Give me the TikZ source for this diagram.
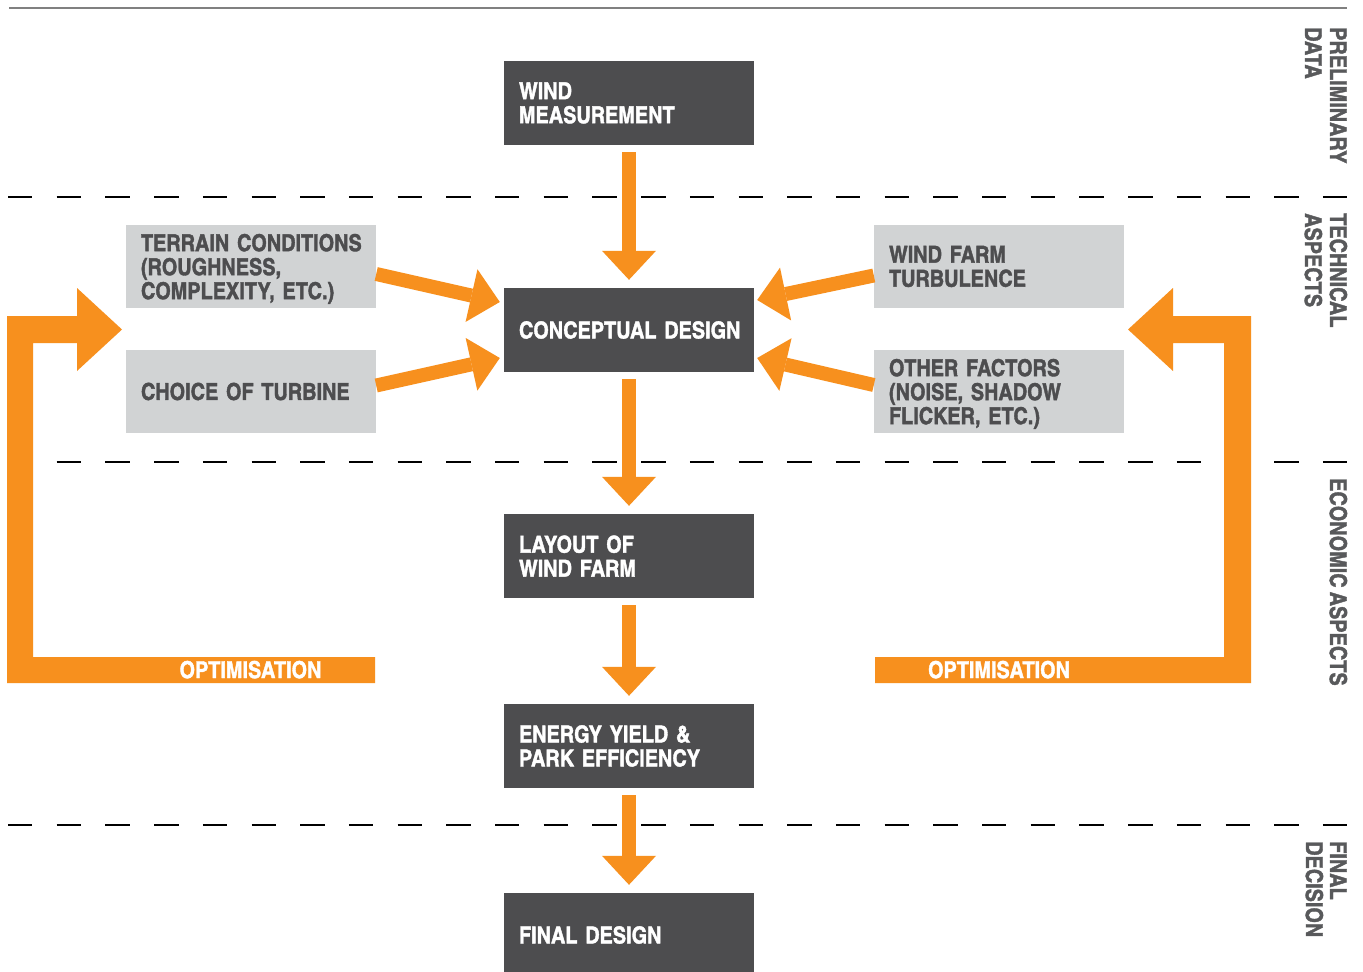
\documentclass[tikz,border=0pt]{standalone}
\usepackage{fontspec}
\newfontfamily\cnfont{texgyreheroscn-bold.otf}[FakeStretch=1.04,FakeBold=1.6,WordSpace=0.75]
\usetikzlibrary{arrows.meta}
\definecolor{dbox}{HTML}{4D4D4F}
\definecolor{lbox}{HTML}{D1D3D4}
\definecolor{orng}{HTML}{F7901E}
\definecolor{ltxt}{HTML}{4D4D4F}
\definecolor{sidetxt}{HTML}{58595B}
\definecolor{toplinecol}{HTML}{808080}
\hyphenpenalty=10000
\exhyphenpenalty=10000
\begin{document}
\begin{tikzpicture}[x=1pt,y=-1pt,
 boxfont/.style={font={\cnfont\fontsize{23.3}{24}\selectfont}},
 darkbox/.style={boxfont, fill=dbox, text=white, minimum height=84pt, text width=220pt, align=left, inner xsep=15pt, inner ysep=0pt},
 lightbox/.style={darkbox, fill=lbox, text=ltxt, minimum height=83pt},
 oarrow/.style={draw=orng, line width=14pt, -{Triangle[width=54pt,length=29pt,line width=0pt]}},
 sectline/.style={line width=2.2pt, black, dash pattern=on 24.4pt off 24.3pt},
 sidelabel/.style={boxfont, text=sidetxt, rotate=-90, anchor=base west, inner sep=0pt},
 optlabel/.style={boxfont, text=white, anchor=base, inner sep=0pt},
]
\useasboundingbox (0,0) rectangle (1363,972);
\fill[white] (0,0) rectangle (1363,972);

% top rule and section separators
\draw[toplinecol, line width=1.6pt] (9,8) -- (1347,8);
\draw[sectline] (8,197) -- (1347,197);
\draw[sectline] (8,462) -- (1347,462);
\draw[sectline] (8,825) -- (1347,825);

% side labels
\node[sidelabel] (l1a) at (1330,27) {PRELIMINARY};
\node[sidelabel] (l1b) at (1305,27) {DATA};
\node[sidelabel] (l2a) at (1330,213) {TECHNICAL};
\node[sidelabel] (l2b) at (1305,213) {ASPECTS};
\node[sidelabel] (l3a) at (1330,478) {ECONOMIC ASPECTS};
\node[sidelabel] (l4a) at (1330,841) {FINAL};
\node[sidelabel] (l4b) at (1306,841) {DECISION};

% main boxes
\node[darkbox] (wm) at (629,103) {WIND\\MEASUREMENT};
\node[darkbox] (cd) at (629,330) {CONCEPTUAL~DESIGN};
\node[darkbox] (lw) at (629,556) {LAYOUT~OF\\WIND~FARM};
\node[darkbox] (ey) at (629,746) {ENERGY~YIELD~\&\\PARK~EFFICIENCY};
\node[darkbox] (fd) at (629,935) {FINAL~DESIGN};

\node[lightbox] (tc) at (251,266.5) {TERRAIN~CONDITIONS\\(ROUGHNESS,\\\smash{COMPLEXITY,~ETC.)}};
\node[lightbox] (ct) at (251,391.5) {CHOICE~OF~TURBINE};
\node[lightbox] (wt) at (999,266.5) {WIND~FARM\\TURBULENCE};
\node[lightbox] (of) at (999,391.5) {OTHER~FACTORS\\(NOISE,~SHADOW\\\smash{FLICKER,~ETC.)}};

% vertical flow arrows
\draw[oarrow, shorten <=7pt, shorten >=8pt] (wm) -- (cd);
\draw[oarrow, shorten <=7pt, shorten >=8pt] (cd) -- (lw);
\draw[oarrow, shorten <=7pt, shorten >=8pt] (lw) -- (ey);
\draw[oarrow, shorten <=7pt, shorten >=8pt] (ey) -- (fd);

% side input arrows
\draw[oarrow] ([shift={(0,7.5)}]tc.east) -- ([shift={(-4,-28)}]cd.west);
\draw[oarrow] ([shift={(0,-6)}]ct.east) -- ([shift={(-4,28)}]cd.west);
\draw[oarrow] ([shift={(0,9)}]wt.west) -- ([shift={(3,-30)}]cd.east);
\draw[oarrow] ([shift={(0,-6.5)}]of.west) -- ([shift={(3,28)}]cd.east);

% optimisation loops
\fill[orng] (375,683) -- (7,683) -- (7,316) -- (77,316) -- (77,288) -- (122,329.5) -- (77,371) -- (77,343) -- (33,343) -- (33,657) -- (375,657) -- cycle;
\fill[orng] (875,683) -- (1251,683) -- (1251,316) -- (1173,316) -- (1173,288) -- (1128,329.5) -- (1173,371) -- (1173,343) -- (1224,343) -- (1224,657) -- (875,657) -- cycle;
\node[optlabel] (o1) at (250.5,678) {OPTIMISATION};
\node[optlabel] (o2) at (999,678) {OPTIMISATION};
\end{tikzpicture}
\end{document}
